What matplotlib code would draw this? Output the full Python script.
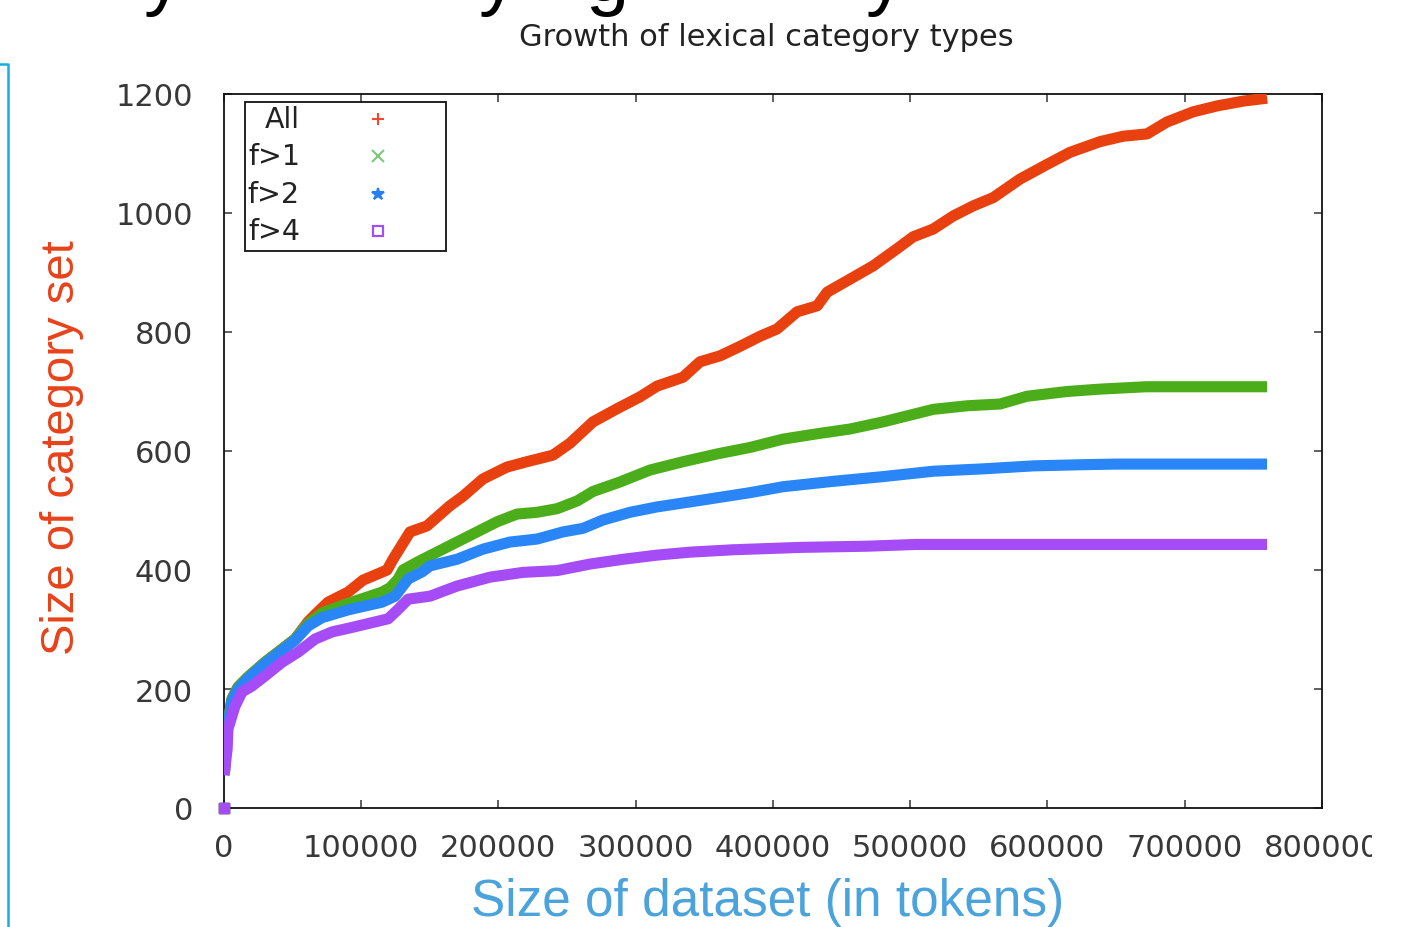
import matplotlib
matplotlib.use("Agg")
import matplotlib.pyplot as plt
from matplotlib.lines import Line2D
from matplotlib.patches import Rectangle
from matplotlib.transforms import Bbox, TransformedBbox

# ---------------- data ----------------
all_x = [0, 600, 1500, 3000, 6000, 10400, 17700, 30100, 42500, 52000, 61500, 66600,
         76100, 90700, 101500, 119000, 123300, 135700, 148000, 164800, 174300, 188800,
         206300, 220800, 239800, 252200, 269000, 286500, 303200, 315600, 334600, 347000,
         361600, 376200, 390800, 403000, 417700, 432300, 439600, 456300, 473000, 490500,
         502200, 516800, 531400, 546000, 560600, 580000, 600000, 616500, 638400, 655100,
         672600, 687100, 706100, 723600, 742500, 760000]
all_y = [0, 62, 110, 140, 183, 203, 220, 245, 267, 284, 313, 325,
         346, 363, 383, 400, 418, 464, 474, 508, 524, 553,
         573, 582, 593, 613, 649, 671, 691, 709, 724, 750,
         760, 776, 793, 805, 834, 844, 867, 889, 911, 940,
         960, 973, 995, 1012, 1026, 1057, 1082, 1102, 1120, 1129,
         1133, 1153, 1170, 1180, 1188, 1193]

f1_x = [0, 600, 1500, 3000, 6000, 10400, 17700, 30100, 42500, 52000, 61500, 71700,
        90700, 106500, 115400, 121100, 127100, 130600, 140800, 155300, 169900, 184500,
        199100, 213600, 228200, 242800, 257400, 269000, 288700, 310500, 334600, 359300,
        383400, 407500, 432300, 456300, 480400, 497800, 516800, 541500, 565500, 585100,
        614300, 638400, 672000, 760000]
f1_y = [0, 62, 110, 140, 183, 203, 220, 245, 267, 284, 310, 328,
        344, 356, 363, 370, 385, 400, 413, 430, 447, 464,
        481, 494, 497, 503, 516, 532, 548, 568, 582, 595,
        606, 620, 629, 637, 649, 659, 670, 676, 679, 692,
        700, 704, 708, 708]

f2_x = [0, 600, 1500, 3000, 6000, 10400, 17700, 30100, 42500, 52000, 61500, 71700,
        90700, 115400, 124800, 134400, 144600, 150300, 169900, 188800, 208500, 228200,
        247100, 261700, 276300, 296000, 315600, 347000, 383400, 407500, 443900, 480400,
        516800, 553200, 589600, 626000, 650000, 760000]
f2_y = [0, 60, 105, 138, 180, 200, 218, 243, 265, 282, 306, 320,
        333, 346, 356, 385, 397, 407, 418, 435, 447, 452,
        464, 470, 484, 497, 506, 517, 530, 540, 549, 557,
        566, 570, 575, 577, 578, 578]

f4_x = [0, 300, 2500, 3100, 8200, 13300, 20600, 30100, 42500, 54200, 66600, 79000,
        90700, 105300, 119800, 127100, 134400, 150300, 169900, 194000, 218000, 242800,
        266800, 290900, 315600, 339800, 371100, 420000, 468600, 505000, 760000]
f4_y = [0, 55, 99, 133, 171, 195, 205, 222, 245, 262, 284, 296,
        302, 310, 318, 334, 351, 356, 373, 388, 396, 399,
        410, 418, 425, 430, 434, 438, 440, 443, 443]

series_labels = ["All", "f>1", "f>2", "f>4"]
x_ticks = [0, 100000, 200000, 300000, 400000, 500000, 600000, 700000, 800000]
y_ticks = [0, 200, 400, 600, 800, 1000, 1200]

# ---------------- styling ----------------
colors = ["#e8400f", "#4cad1b", "#2a86f6", "#a64cf6"]
legend_colors = ["#ec4a32", "#7cc87a", "#2a7ff0", "#a050f2"]
legend_markers = ["+", "x", "*", "s"]

W, H = 1406, 928
fig = plt.figure(figsize=(W / 100, H / 100), dpi=100)
fig.patch.set_facecolor("white")

x0, x1, y0, y1 = 223.7, 1322.0, 809.0, 95.0
ax = fig.add_axes([x0 / W, 1 - y0 / H, (x1 - x0) / W, (y0 - y1) / H])
ax.set_xlim(0, 800000)
ax.set_ylim(0, 1200)

for xs, ys, c in zip([all_x, f1_x, f2_x, f4_x], [all_y, f1_y, f2_y, f4_y], colors):
    ax.plot(xs[1:], ys[1:], color=c, lw=8, solid_joinstyle="round",
            solid_capstyle="butt", zorder=3)
    ax.plot(xs[:1], ys[:1], marker="s", ms=7, color=c, ls="none",
            zorder=3, clip_on=False)

ax.set_xticks(x_ticks)
ax.set_xticklabels([str(v) for v in x_ticks])
ax.set_yticks(y_ticks)
ax.set_yticklabels([str(v) for v in y_ticks])
ax.tick_params(axis="both", direction="in", length=6, width=1.2, color="#444444",
               top=True, right=True, labelsize=22, labelcolor="#383838")
ax.tick_params(axis="x", pad=18)
ax.tick_params(axis="y", pad=22)
for lab in ax.get_xticklabels() + ax.get_yticklabels():
    lab.set_family("DejaVu Sans")
for s in ax.spines.values():
    s.set_linewidth(1.3)
    s.set_color("#111111")

# clip the last x tick label like the cropped reference
last = ax.get_xticklabels()[-1]
last.set_clip_box(TransformedBbox(Bbox.from_extents(0, 0, 1372 / W, 1), fig.transFigure))
last.set_clip_on(True)

# ---------------- legend (gnuplot-style key) ----------------
def axx(px):
    return (px - x0) / (x1 - x0)

def axy(py):
    return (y0 - py) / (y0 - y1)

ax.add_patch(Rectangle((axx(245), axy(252)), axx(446) - axx(245), axy(103) - axy(252),
                       transform=ax.transAxes, fill=False, lw=1.3, ec="#111111", zorder=5))
rows = [120, 157, 195, 232]
msizes = [8, 9, 9, 7]
for lab, py, c, m, ms in zip(series_labels, rows, legend_colors, legend_markers, msizes):
    ax.text(axx(300), axy(py), lab, transform=ax.transAxes, ha="right", va="center",
            fontsize=20.5, color="#222222", family="DejaVu Sans", zorder=6)
    if m == "s":
        ax.plot([axx(378)], [axy(py)], marker=m, ms=ms, mfc="none", mec=c, mew=1.6,
                transform=ax.transAxes, ls="none", zorder=6, clip_on=False)
    else:
        ax.plot([axx(378)], [axy(py)], marker=m, ms=ms, color=c, mew=1.5,
                transform=ax.transAxes, ls="none", zorder=6, clip_on=False)

# ---------------- titles / labels ----------------
fig.text(766 / W, 1 - 37 / H, "Growth of lexical category types", ha="center", va="center",
         fontsize=22, color="#222222", family="DejaVu Sans")
fig.text(768 / W, 1 - 903 / H, "Size of dataset (in tokens)", ha="center", va="center",
         fontsize=37, color="#4ba3dc", family="Liberation Sans")
fig.text(62 / W, 1 - 448 / H, "Size of category set", ha="center", va="center",
         rotation=90, fontsize=34, color="#e8421a", family="Liberation Sans")

# slide fragments: descenders of the cut-off slide heading, and the cyan frame
for px, ch in [(163, "y"), (498, "y"), (607, "g"), (885, "y")]:
    fig.text(px / W, 1 - 1 / H, ch, ha="center", va="baseline", fontsize=56,
             color="black", family="Liberation Sans")
fig.add_artist(Line2D([0, 8 / W, 8 / W], [1 - 65 / H, 1 - 65 / H, 0],
                      transform=fig.transFigure, color="#17ade0", lw=1.8))

fig.savefig("out.png", dpi=100, facecolor="white")
